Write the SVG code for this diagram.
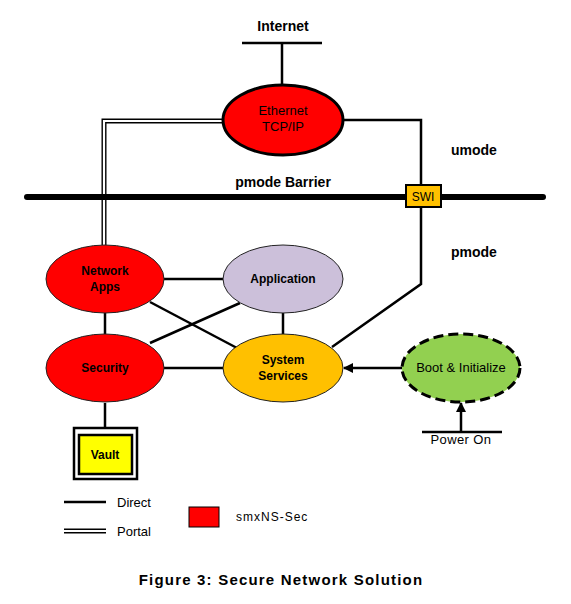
<svg xmlns="http://www.w3.org/2000/svg" width="571" height="604" viewBox="0 0 571 604">
<defs>
<style>
text{font-family:"Liberation Sans",Arial,sans-serif;fill:#000;}
.b{font-weight:bold;}
.ln{stroke:#000;stroke-width:2.5;fill:none;}
.portalA{stroke:#000;stroke-width:5;fill:none;}
.portalB{stroke:#fff;stroke-width:2.2;fill:none;}
</style>
<marker id="arr" markerWidth="10" markerHeight="10" refX="9" refY="5" orient="auto" markerUnits="userSpaceOnUse">
<path d="M0,0 L10,5 L0,10 Z" fill="#000"/>
</marker>
</defs>
<rect width="571" height="604" fill="#fff"/>

<g id="connectors">
<line class="ln" x1="242" y1="43" x2="322" y2="43"/>
<line class="ln" x1="282" y1="43" x2="282" y2="85"/>
<polyline class="ln" points="343,120 421,120 421,284 332,347"/>
<polyline class="portalA" points="224,121 104,121 104,245" stroke-linejoin="miter"/>
<polyline class="portalB" points="224,121 104,121 104,245" stroke-linejoin="miter"/>
<line class="ln" x1="164" y1="279" x2="224" y2="279"/>
<line class="ln" x1="105" y1="313" x2="105" y2="334"/>
<line class="ln" x1="283" y1="313" x2="283" y2="334"/>
<line class="ln" x1="164" y1="368" x2="224" y2="368"/>
<line class="ln" x1="150" y1="302" x2="237" y2="348"/>
<line class="ln" x1="150" y1="343" x2="240" y2="303"/>
<line class="ln" x1="105" y1="403" x2="105" y2="427"/>
<line class="ln" x1="402" y1="368" x2="344" y2="368" marker-end="url(#arr)"/>
<line class="ln" x1="422" y1="432" x2="502" y2="432"/>
<line class="ln" x1="461" y1="432" x2="461" y2="403" marker-end="url(#arr)"/>
</g>

<g id="barrier">
<line x1="27" y1="197" x2="543" y2="197" stroke="#000" stroke-width="6" stroke-linecap="round"/>
<text class="b" x="283" y="187" font-size="14" text-anchor="middle">pmode Barrier</text>
</g>

<g id="swi">
<rect x="406" y="185" width="35" height="22" fill="#ffc000" stroke="#000" stroke-width="2"/>
<text x="423" y="201" font-size="12" text-anchor="middle">SWI</text>
</g>

<g id="internet">
<text class="b" x="283" y="31" font-size="14" text-anchor="middle">Internet</text>
</g>

<g id="ethernet">
<ellipse cx="283" cy="120" rx="60" ry="35" fill="#ff0000" stroke="#000" stroke-width="3"/>
<text x="283" y="115" font-size="13" text-anchor="middle">Ethernet</text>
<text x="283" y="131" font-size="13" text-anchor="middle">TCP/IP</text>
</g>

<g id="modes">
<text class="b" x="451" y="155" font-size="14">umode</text>
<text class="b" x="451" y="257" font-size="14">pmode</text>
</g>

<g id="network-apps">
<ellipse cx="105" cy="279" rx="59" ry="34" fill="#ff0000" stroke="#222" stroke-width="1"/>
<text class="b" x="105" y="275" font-size="12" text-anchor="middle">Network</text>
<text class="b" x="105" y="291" font-size="12" text-anchor="middle">Apps</text>
</g>

<g id="application">
<ellipse cx="283" cy="279" rx="60" ry="34" fill="#ccc0da" stroke="#222" stroke-width="1"/>
<text class="b" x="283" y="283" font-size="12" text-anchor="middle">Application</text>
</g>

<g id="security">
<ellipse cx="105" cy="368" rx="59" ry="34" fill="#ff0000" stroke="#222" stroke-width="1"/>
<text class="b" x="105" y="372" font-size="12" text-anchor="middle">Security</text>
</g>

<g id="system-services">
<ellipse cx="283" cy="368" rx="60" ry="34" fill="#ffc000" stroke="#222" stroke-width="1"/>
<text class="b" x="283" y="364" font-size="12" text-anchor="middle">System</text>
<text class="b" x="283" y="380" font-size="12" text-anchor="middle">Services</text>
</g>

<g id="boot">
<ellipse cx="461" cy="368" rx="59" ry="34" fill="#92d050" stroke="#000" stroke-width="3" stroke-dasharray="10,5"/>
<text x="461" y="372" font-size="13" text-anchor="middle">Boot &amp; Initialize</text>
</g>

<g id="power-on">
<text x="461" y="444" font-size="13" text-anchor="middle" letter-spacing="0.4">Power On</text>
</g>

<g id="vault">
<rect x="74" y="428" width="63" height="51" fill="#fff" stroke="#000" stroke-width="2.5"/>
<rect x="79" y="435" width="53" height="39" fill="#ffff00" stroke="#000" stroke-width="2.5"/>
<text class="b" x="105" y="459" font-size="12" text-anchor="middle">Vault</text>
</g>

<g id="legend">
<line class="ln" x1="64" y1="502" x2="106" y2="502"/>
<text x="117" y="507" font-size="13">Direct</text>
<line class="portalA" x1="64" y1="531" x2="106" y2="531" stroke-width="4"/>
<line class="portalB" x1="64" y1="531" x2="106" y2="531" stroke-width="2"/>
<text x="117" y="536" font-size="13">Portal</text>
<rect x="189" y="507" width="30" height="20" fill="#ff0000" stroke="#000" stroke-width="1"/>
<text x="236" y="521" font-size="12" letter-spacing="1">smxNS-Sec</text>
</g>

<g id="caption">
<text class="b" x="281" y="585" font-size="15" text-anchor="middle" letter-spacing="1.2">Figure 3: Secure Network Solution</text>
</g>
</svg>
